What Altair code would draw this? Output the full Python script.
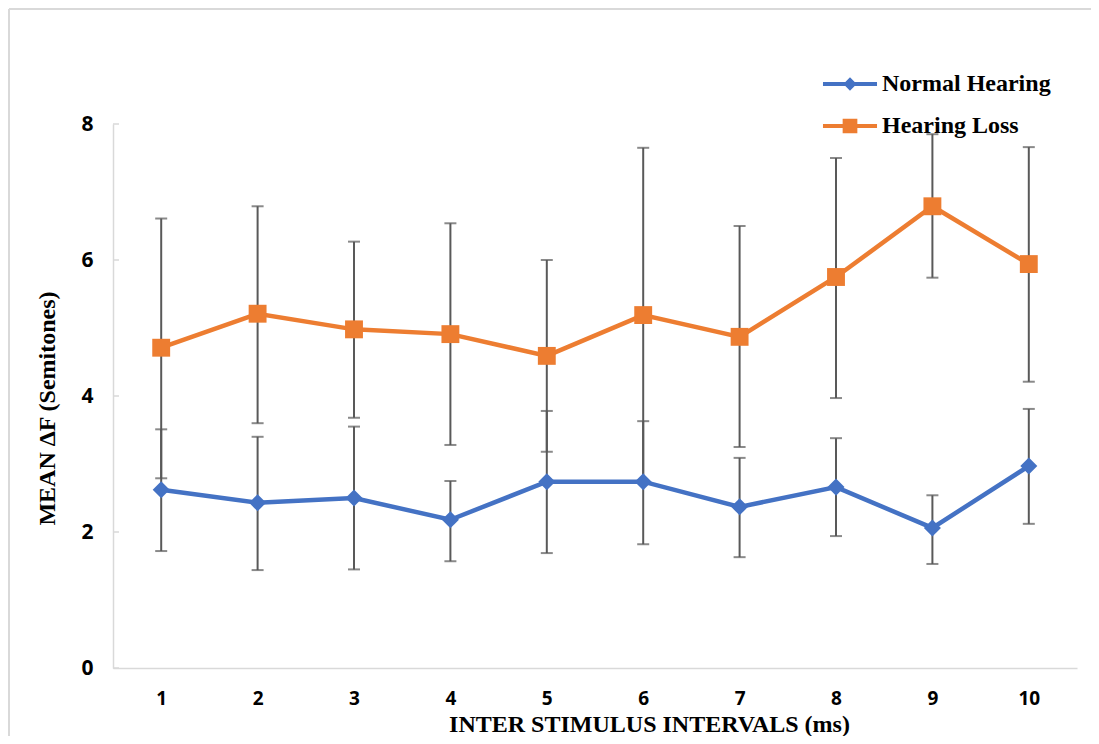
import altair as alt
import pandas as pd

# ---- data ----
isi = [1, 2, 3, 4, 5, 6, 7, 8, 9, 10]
series_names = ["Normal Hearing", "Hearing Loss"]

nh_mean = [2.62, 2.43, 2.50, 2.18, 2.74, 2.74, 2.37, 2.66, 2.06, 2.97]
nh_upper = [3.51, 3.40, 3.55, 2.75, 3.78, 3.63, 3.09, 3.38, 2.54, 3.81]
nh_lower = [1.72, 1.44, 1.45, 1.57, 1.69, 1.82, 1.63, 1.94, 1.53, 2.12]

hl_mean = [4.71, 5.21, 4.98, 4.91, 4.59, 5.19, 4.87, 5.75, 6.79, 5.94]
hl_upper = [6.61, 6.79, 6.27, 6.54, 6.00, 7.65, 6.50, 7.50, 7.85, 7.66]
hl_lower = [2.79, 3.60, 3.68, 3.28, 3.18, 2.73, 3.25, 3.97, 5.74, 4.21]

y_ticks = [0, 2, 4, 6, 8]
series_colors = ["#4472C4", "#ED7D31"]

rows = []
for i, x in enumerate(isi):
    rows.append({"series": "Normal Hearing", "isi": x, "mean": nh_mean[i],
                 "lo": nh_lower[i], "hi": nh_upper[i]})
for i, x in enumerate(isi):
    rows.append({"series": "Hearing Loss", "isi": x, "mean": hl_mean[i],
                 "lo": hl_lower[i], "hi": hl_upper[i]})
df = pd.DataFrame(rows)

W, H = 964, 544
PAD_L, PAD_T, PAD_R, PAD_B = 105, 116, 14, 68

AXIS_GRAY = "#d9d9d9"
ERR_GRAY = "#595959"
SERIF = "Liberation Serif"
SANS = "Open Sans"

color_scale = alt.Scale(domain=series_names, range=series_colors)
x_scale = alt.Scale(type="point", padding=0.5)
y_scale = alt.Scale(domain=[0, 8], nice=False)

x_title = "INTER STIMULUS INTERVALS (ms)"
y_title = "MEAN ΔF (Semitones)"

x_axis = alt.Axis(
    labelAngle=0, ticks=False, tickSize=0, grid=False,
    domainColor=AXIS_GRAY, domainWidth=1.5,
    labelFont=SANS, labelFontWeight="bold", labelFontSize=19, labelColor="black",
    labelPadding=21, labelBaseline="top",
    title=x_title, titleFont=SERIF, titleFontWeight="bold", titleFontSize=24,
    titleColor="black", titleX=536, titleY=63, titleAlign="center", titleBaseline="alphabetic",
)
y_axis = alt.Axis(
    values=y_ticks, ticks=False, tickSize=0, grid=False,
    domainColor=AXIS_GRAY, domainWidth=1.5,
    labelFont=SANS, labelFontWeight="bold", labelFontSize=21, labelColor="black",
    labelPadding=20,
    title=y_title, titleFont=SERIF, titleFontWeight="bold", titleFontSize=24,
    titleColor="black", titleAngle=270, titleX=-66, titleY=284,
    titleAlign="center", titleBaseline="middle",
)


def X():
    return alt.X("isi:O", scale=x_scale, axis=x_axis, title=x_title)


def Y(field):
    return alt.Y(f"{field}:Q", scale=y_scale, axis=y_axis, title=y_title)


def C():
    return alt.Color("series:N", scale=color_scale, legend=None)


# legend: line with marker symbol drawn as filled custom paths
nh_path = "M-3.86,-0.3L3.86,-0.3L3.86,0.3L-3.86,0.3Z M0,-0.95L0.95,0L0,0.95L-0.95,0Z"
hl_path = "M-3.86,-0.3L3.86,-0.3L3.86,0.3L-3.86,0.3Z M-1.05,-1.05L1.05,-1.05L1.05,1.05L-1.05,1.05Z"

legend_props = dict(
    title=None, orient="none", legendX=725, legendY=-52, padding=0,
    symbolSize=196, symbolStrokeWidth=0, symbolOpacity=1,
    labelFont=SERIF, labelFontWeight="bold", labelFontSize=24, labelColor="black",
    labelOffset=20, rowPadding=18, labelLimit=400,
)

legend_layer = alt.Chart(pd.DataFrame({"series": series_names})).mark_point(
    filled=True, opacity=0
).encode(
    color=alt.Color("series:N", scale=color_scale, legend=alt.Legend(**legend_props)),
    shape=alt.Shape("series:N", scale=alt.Scale(domain=series_names, range=[nh_path, hl_path]),
                    legend=alt.Legend(**legend_props)),
)

one = pd.DataFrame({"a": [0]})
# frame lines (top and left edges of the figure border)
frame_top = alt.Chart(one).mark_rule(color=AXIS_GRAY, strokeWidth=2).encode(
    x=alt.value(-PAD_L + 1), x2=alt.value(W + PAD_R), y=alt.value(-PAD_T + 1)
)
frame_left = alt.Chart(one).mark_rule(color=AXIS_GRAY, strokeWidth=2).encode(
    x=alt.value(-PAD_L + 1), y=alt.value(-PAD_T + 1), y2=alt.value(H + PAD_B)
)

# inward y tick stubs
tick_stubs = alt.Chart(pd.DataFrame({"v": y_ticks})).mark_rule(
    color=AXIS_GRAY, strokeWidth=1.5
).encode(y=Y("v"), x=alt.value(0), x2=alt.value(6))

base = alt.Chart(df)

err = base.mark_rule(color=ERR_GRAY, strokeWidth=2).encode(
    x=X(), y=Y("lo"), y2="hi"
)
cap_lo = base.mark_tick(color=ERR_GRAY, thickness=2, size=12).encode(x=X(), y=Y("lo"))
cap_hi = base.mark_tick(color=ERR_GRAY, thickness=2, size=12).encode(x=X(), y=Y("hi"))

lines = base.mark_line(strokeWidth=4.5).encode(
    x=X(), y=Y("mean"), color=C(), detail="series:N"
)

pts_nh = base.transform_filter(alt.datum.series == "Normal Hearing").mark_point(
    shape="diamond", filled=True, size=290, opacity=1
).encode(x=X(), y=Y("mean"), color=C())

pts_hl = base.transform_filter(alt.datum.series == "Hearing Loss").mark_point(
    shape="square", filled=True, size=320, opacity=1
).encode(x=X(), y=Y("mean"), color=C())

chart = alt.layer(
    legend_layer, frame_top, frame_left, tick_stubs, err, cap_lo, cap_hi, lines, pts_nh, pts_hl
).properties(
    width=W, height=H,
    autosize=alt.AutoSizeParams(type="none"),
    padding={"left": PAD_L, "top": PAD_T, "right": PAD_R, "bottom": PAD_B},
    background="white",
).configure_view(stroke="transparent")

chart.save("out.html", embed_options={"renderer": "svg", "actions": False})
